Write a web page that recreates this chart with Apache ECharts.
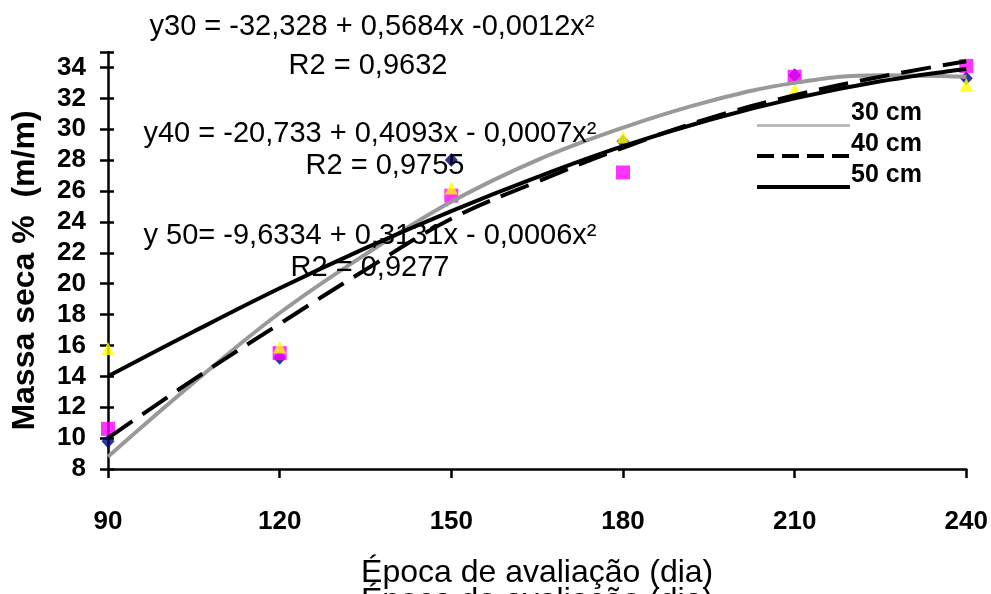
<!DOCTYPE html>
<html>
<head>
<meta charset="utf-8">
<script src="https://cdn.jsdelivr.net/npm/echarts@6/dist/echarts.min.js"></script>
<style>
html,body{margin:0;padding:0;background:#fff;}
#chart{width:991px;height:594px;}
</style>
</head>
<body>
<div id="chart"></div>
<script>
// ---- data ----
const days = [90, 120, 150, 180, 210, 240];
const diamondPts = [9.8, 15.2, 28.0, 29.2, 33.5, 33.3];
const squarePts = [10.6, 15.5, 25.7, 27.2, 33.4, 34.1];
const trianglePts = [15.8, 15.9, 26.2, 29.5, 32.6, 32.9];

const curveDays = [90, 105, 120, 135, 150, 165, 180, 195, 210, 225, 240];
const trend30 = [8.8, 13.6, 18.1, 21.9, 25.3, 28.0, 30.1, 31.8, 33.0, 33.5, 33.4];
const trend40 = [10.0, 13.8, 17.4, 20.9, 24.2, 26.6, 28.8, 30.7, 32.2, 33.4, 34.4];
const trend50 = [14.0, 16.9, 19.7, 22.3, 24.7, 26.9, 28.9, 30.6, 32.0, 33.1, 33.9];

const seriesNames = ['30 cm', '40 cm', '50 cm'];
const xTicks = [90, 120, 150, 180, 210, 240];
const yTicks = [8, 10, 12, 14, 16, 18, 20, 22, 24, 26, 28, 30, 32, 34];

const equations = [
  'y30 = -32,328 + 0,5684x -0,0012x²',
  'R2 = 0,9632',
  'y40 = -20,733 + 0,4093x - 0,0007x²',
  'R2 = 0,9755',
  'y 50= -9,6334 + 0,3131x - 0,0006x²',
  'R2 = 0,9277'
];
const xTitle = 'Época de avaliação (dia)';
const yTitle = 'Massa seca %  (m/m)';

// ---- build ----
const FONT = 'Liberation Sans, Arial, sans-serif';
const pairs = (xs, ys) => xs.map((x, i) => [x, ys[i]]);

const chart = echarts.init(document.getElementById('chart'), null, {renderer: 'canvas'});

const yBase = {
  type: 'value', min: 8, max: 35, interval: 2,
  splitLine: {show: false}
};

const eqText = (text, x, y) => ({
  type: 'text', x: x, y: y, z: 100,
  style: {text: text, font: '29px ' + FONT, fill: '#000', textAlign: 'center', textVerticalAlign: 'middle'}
});

const option = {
  animation: false,
  backgroundColor: '#fff',
  grid: {left: 108, right: 23, top: 52, bottom: 121, containLabel: false},
  xAxis: {
    type: 'value', min: 90, max: 240, interval: 30,
    name: xTitle, nameLocation: 'middle', nameGap: 88,
    nameTextStyle: {fontFamily: FONT, fontSize: 32, color: '#000'},
    axisLine: {lineStyle: {color: '#000', width: 2.5}},
    axisTick: {length: 9, lineStyle: {color: '#000', width: 2.5}},
    axisLabel: {fontFamily: FONT, fontSize: 26, fontWeight: 'bold', color: '#000', margin: 40},
    splitLine: {show: false}
  },
  yAxis: [
    Object.assign({}, yBase, {
      name: yTitle, nameLocation: 'middle', nameGap: 67,
      nameTextStyle: {fontFamily: FONT, fontSize: 32, fontWeight: 'bold', color: '#000', padding: [0, 20, 0, 0]},
      axisLine: {show: true, lineStyle: {color: '#000', width: 2.5}},
      axisTick: {length: 8, lineStyle: {color: '#000', width: 2.5}},
      axisLabel: {fontFamily: FONT, fontSize: 26, fontWeight: 'bold', color: '#000', margin: 22,
        formatter: v => (yTicks.indexOf(v) >= 0 ? String(v) : '')}
    }),
    Object.assign({}, yBase, {
      position: 'left',
      axisLine: {show: false},
      axisTick: {inside: true, length: 6, lineStyle: {color: '#000', width: 2.5}},
      axisLabel: {show: false}
    })
  ],
  legend: {
    orient: 'vertical', left: 752, top: 94, itemGap: 3,
    itemWidth: 93, itemHeight: 28, symbolKeepAspect: false,
    textStyle: {fontFamily: FONT, fontSize: 25, fontWeight: 'bold', color: '#000', padding: [0, 0, 0, -4]},
    data: [
      {name: seriesNames[0], icon: 'path://M0,0 M0,25 L93,25 L93,28 L0,28 Z', itemStyle: {color: '#bbbbbb', borderWidth: 0}},
      {name: seriesNames[1], icon: 'path://M0,0 M0,24 L17,24 L17,28 L0,28 Z M25,24 L42,24 L42,28 L25,28 Z M50,24 L67,24 L67,28 L50,28 Z M75,24 L92,24 L92,28 L75,28 Z M93,28', itemStyle: {color: '#000', borderWidth: 0}},
      {name: seriesNames[2], icon: 'path://M0,0 M0,24 L93,24 L93,28 L0,28 Z', itemStyle: {color: '#000', borderWidth: 0}}
    ]
  },
  graphic: [
    eqText(equations[0], 372, 27),
    eqText(equations[1], 368, 66),
    eqText(equations[2], 370, 134),
    eqText(equations[3], 385, 166),
    eqText(equations[4], 370, 236),
    eqText(equations[5], 370, 268),
    {type: 'text', x: 537, y: 601, z: 100,
      style: {text: xTitle, font: '32px ' + FONT, fill: '#000', textAlign: 'center', textVerticalAlign: 'middle'}}
  ],
  series: [
    {name: 'pontos losango', type: 'scatter', symbol: 'diamond', symbolSize: [13, 14], z: 2,
      itemStyle: {color: '#000080'}, data: pairs(days, diamondPts)},
    {name: 'pontos quadrado', type: 'scatter', symbol: 'rect', symbolSize: 14, z: 3,
      itemStyle: {color: '#ff00ff'}, data: pairs(days, squarePts)},
    {name: 'pontos triângulo', type: 'scatter', symbol: 'triangle', symbolSize: [13, 13], z: 4,
      itemStyle: {color: '#ffff00'}, data: pairs(days, trianglePts)},
    {name: seriesNames[0], type: 'line', smooth: 0.4, showSymbol: false, z: 5,
      color: '#999999', lineStyle: {color: '#999999', width: 4}, data: pairs(curveDays, trend30)},
    {name: seriesNames[1], type: 'line', smooth: 0.4, showSymbol: false, z: 6,
      color: '#000', lineStyle: {color: '#000', width: 4, type: [30, 12]}, data: pairs(curveDays, trend40)},
    {name: seriesNames[2], type: 'line', smooth: 0.4, showSymbol: false, z: 6,
      color: '#000', lineStyle: {color: '#000', width: 4}, data: pairs(curveDays, trend50)}
  ]
};
chart.setOption(option);
</script>
</body>
</html>
